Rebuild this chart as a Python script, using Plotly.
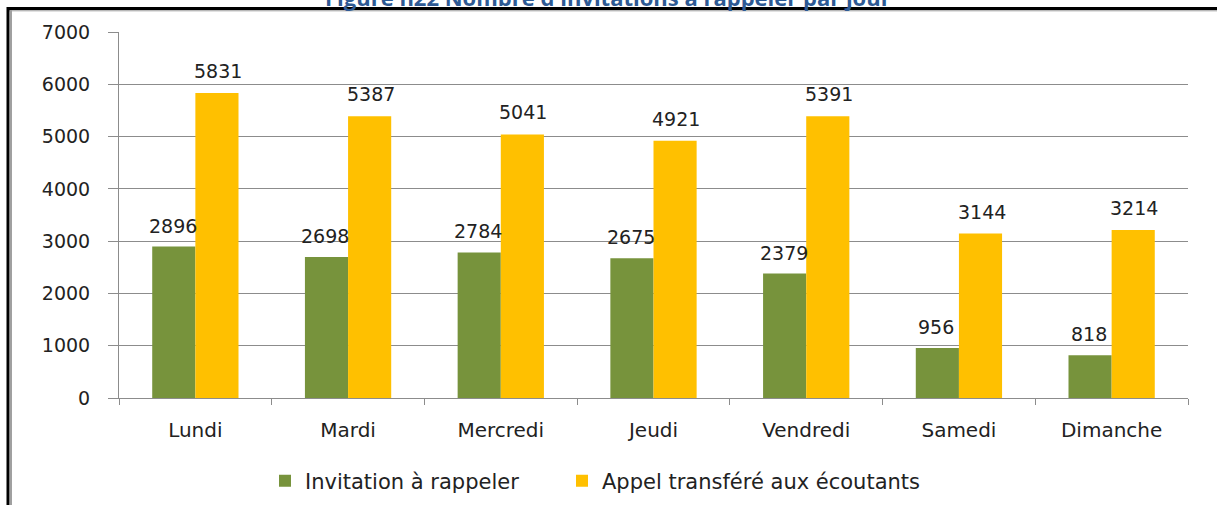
import plotly.graph_objects as go

days = ["Lundi", "Mardi", "Mercredi", "Jeudi", "Vendredi", "Samedi", "Dimanche"]
invitation = [2896, 2698, 2784, 2675, 2379, 956, 818]
transfere = [5831, 5387, 5041, 4921, 5391, 3144, 3214]
series_names = ["Invitation à rappeler", "Appel transféré aux écoutants"]
title_text = "Figure n22 Nombre d'invitations à rappeler par jour"

W, H = 1217, 505
L, R, T, B = 119, 29, 32, 107
pw, ph = W - L - R, H - T - B

def px2x(px):
    return (px - L) / pw

def px2y(py):
    return (H - B - py) / ph

label_font = dict(family="DejaVu Sans", size=19, color="#222222")
legend_font = dict(family="DejaVu Sans", size=21, color="#222222")

fig = go.Figure()
fig.add_trace(go.Bar(
    x=days, y=invitation, name=series_names[0],
    marker=dict(color="#77933C", line=dict(width=0)), legend="legend",
))
fig.add_trace(go.Bar(
    x=days, y=transfere, name=series_names[1],
    marker=dict(color="#FFC000", line=dict(width=0)), legend="legend2",
))

half_bar_px = pw / len(days) * (1 - 0.435) / 4
annotations = []
for d, v in zip(days, invitation):
    annotations.append(dict(x=d, y=v, text=str(v), showarrow=False, xanchor="center",
                            yanchor="bottom", xshift=-half_bar_px - 1, yshift=8, font=label_font))
for d, v in zip(days, transfere):
    annotations.append(dict(x=d, y=v, text=str(v), showarrow=False, xanchor="center",
                            yanchor="bottom", xshift=half_bar_px + 1, yshift=9, font=label_font))
annotations.append(dict(text="<b>" + title_text + "</b>", xref="paper", yref="paper",
                        x=px2x(608), y=px2y(9), xanchor="center", yanchor="bottom",
                        yshift=-5, showarrow=False,
                        font=dict(family="Open Sans", size=22, color="#2E5A94")))

shapes = [
    dict(type="line", xref="paper", yref="paper", x0=px2x(7), x1=px2x(W + 5),
         y0=px2y(8.5), y1=px2y(8.5), line=dict(color="#000000", width=3)),
    dict(type="line", xref="paper", yref="paper", x0=px2x(7), x1=px2x(W + 5),
         y0=px2y(10.8), y1=px2y(10.8), line=dict(color="#9a9a9a", width=1)),
    dict(type="line", xref="paper", yref="paper", x0=px2x(8), x1=px2x(8),
         y0=px2y(7), y1=px2y(H + 5), line=dict(color="#000000", width=3)),
    dict(type="line", xref="paper", yref="paper", x0=px2x(11), x1=px2x(11),
         y0=px2y(10), y1=px2y(H + 5), line=dict(color="#a0a0a0", width=2)),
]

fig.update_layout(
    width=W, height=H,
    margin=dict(l=L, r=R, t=T, b=B, autoexpand=False),
    paper_bgcolor="white", plot_bgcolor="white",
    barmode="group", bargap=0.435, bargroupgap=0,
    showlegend=True,
    legend=dict(orientation="h", x=px2x(265), xanchor="left", y=px2y(481), yanchor="middle",
                font=legend_font, itemwidth=30),
    legend2=dict(orientation="h", x=px2x(562), xanchor="left", y=px2y(481), yanchor="middle",
                 font=legend_font, itemwidth=30),
    shapes=shapes,
    annotations=annotations,
    font=dict(family="DejaVu Sans", size=19, color="#222222"),
)
fig.update_yaxes(range=[0, 7000], dtick=1000, showgrid=True, gridcolor="#8c8c8c", gridwidth=1,
                 showline=True, linecolor="#8c8c8c", linewidth=1,
                 ticks="outside", ticklen=10, tickcolor="#8c8c8c", ticklabelstandoff=14,
                 tickfont=dict(family="DejaVu Sans", size=19, color="#222222"),
                 zeroline=False)
fig.update_xaxes(showline=True, linecolor="#8c8c8c", linewidth=1,
                 ticks="outside", ticklen=6, tickcolor="#8c8c8c", tickson="boundaries",
                 ticklabelstandoff=14,
                 tickfont=dict(family="DejaVu Sans", size=20, color="#222222"))

fig.write_html("out.html", config={"displayModeBar": False},
               post_script="document.body.style.margin='0';document.body.style.overflow='hidden';")
